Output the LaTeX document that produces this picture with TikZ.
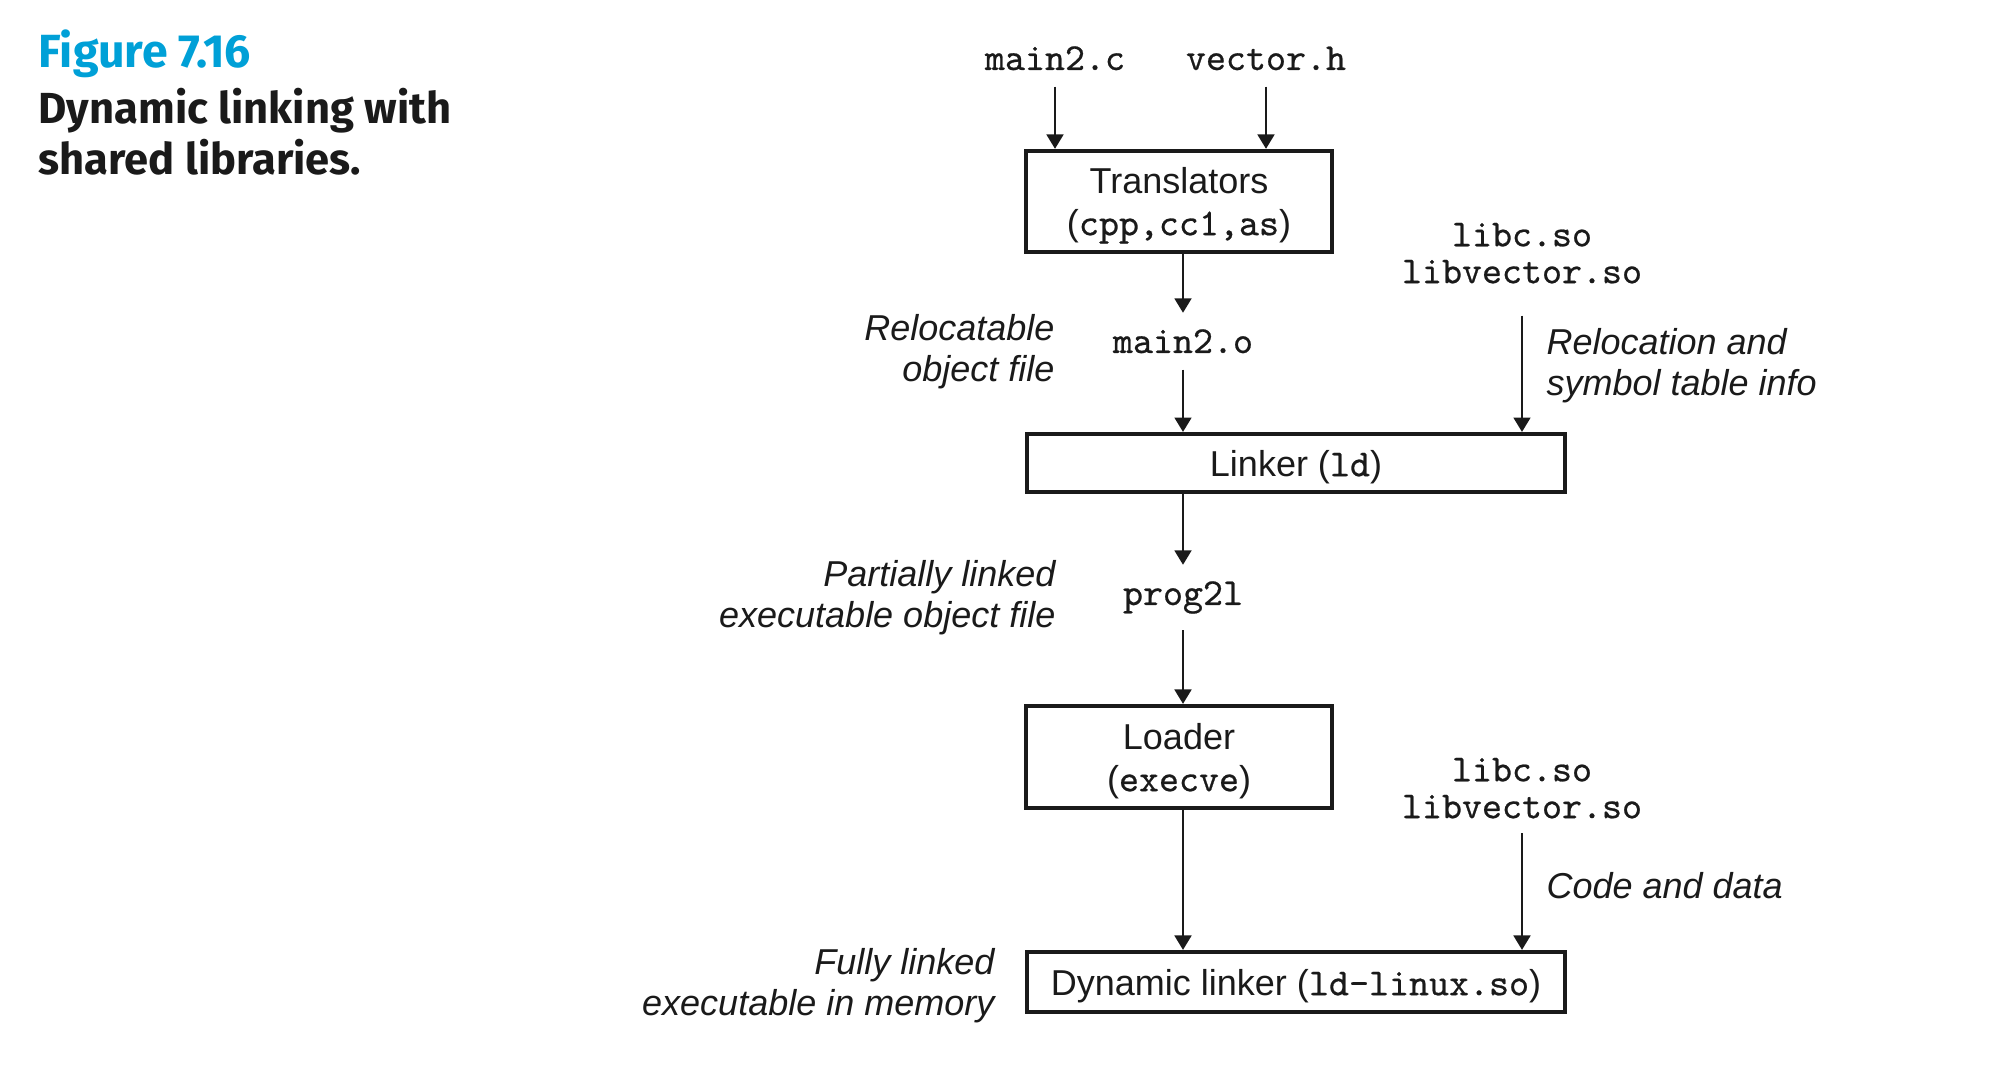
\documentclass[tikz,border=0pt]{standalone}
\usepackage{fontspec}
\setmainfont{Liberation Sans}
\setmonofont{lmmono10-regular.otf}[FakeBold=0.6]
\newfontfamily\titlefont{Fira Sans}
\usetikzlibrary{arrows.meta}
\definecolor{figblue}{RGB}{0,160,215}
\definecolor{ink}{RGB}{26,26,26}

\tikzset{
	box/.style = {draw, line width=1.4pt, inner sep=0pt, align=center,
		font=\fontsize{12}{14}\selectfont},
	file/.style = {inner sep=0pt, outer sep=5.5pt, align=center, anchor=base,
		font=\ttfamily\fontsize{12.7}{12.3}\selectfont},
	note/.style = {inner sep=0pt, font=\itshape\fontsize{12}{13.7}\selectfont},
	arr/.style = {-{Triangle[length=4.8pt,width=5.6pt]}, line width=0.8pt},
}
\newcommand{\tcode}[1]{{\ttfamily\fontsize{12.7}{12.3}\selectfont #1}}
\newcommand{\boxstrut}{\rule{0pt}{11.3pt}}

\begin{document}
\begin{tikzpicture}[x=0.3333pt, y=-0.3333pt, color=ink]
	\useasboundingbox (0,0) rectangle (2000,1074);

	% caption
	\node [anchor=base west, inner sep=0pt, text=figblue,
		font=\titlefont\bfseries\fontsize{15.5}{17}\selectfont] (fignum) at (38,68) {Figure 7.16};
	\node [anchor=north west, inner sep=0pt, align=left,
		font=\titlefont\bfseries\fontsize{14.5}{17}\selectfont] (caption) at (38,87.5) {Dynamic linking with\\shared libraries.};

	% boxes
	\node [box, minimum width=102pt, minimum height=33.7pt] (trans) at (1179,201.5) {\boxstrut Translators\\(\tcode{cpp,cc1,as})};
	\node [box, minimum width=179.3pt, minimum height=19.3pt] (linker) at (1296,463) {\boxstrut Linker (\tcode{ld})};
	\node [box, minimum width=102pt, minimum height=34pt] (loader) at (1179,757) {\boxstrut Loader\\(\tcode{execve})};
	\node [box, minimum width=179.3pt, minimum height=20pt] (dyn) at (1296,982) {\boxstrut Dynamic linker (\tcode{ld-linux.so})};

	% files
	\node [file] (main2c) at (1055,70) {main2.c};
	\node [file] (vectorh) at (1266,70) {vector.h};
	\node [file] (main2o) at (1183,353) {main2.o};
	\node [file] (prog) at (1183,605) {prog2l};
	\node [file, anchor=north, outer sep=0pt] (libs top) at (1522,223) {libc.so\\libvector.so};
	\node [file, anchor=north, outer sep=0pt] (libs bottom) at (1522,758) {libc.so\\libvector.so};

	% notes
	\node [note, align=right, anchor=east] (reloc obj) at (1055,352) {Relocatable\\object file};
	\node [note, align=left, anchor=west] (reloc info) at (1546,366) {Relocation and\\symbol table info};
	\node [note, align=right, anchor=east] (partial) at (1056,598) {Partially linked\\executable object file};
	\node [note, align=left, anchor=west] (code data) at (1546,886) {Code and data};
	\node [note, align=right, anchor=east] (fully) at (995,986) {Fully linked\\executable in memory};

	% arrows
	\draw [arr] (main2c) -- (main2c |- trans.north);
	\draw [arr] (vectorh) -- (vectorh |- trans.north);
	\draw [arr] (main2o |- trans.south) -- (main2o);
	\draw [arr] (main2o) -- (main2o |- linker.north);
	\draw [arr, shorten <=10.7pt] (libs top) -- (libs top |- linker.north);
	\draw [arr] (prog |- linker.south) -- (prog);
	\draw [arr] (prog) -- (prog |- loader.north);
	\draw [arr] (prog |- loader.south) -- (prog |- dyn.north);
	\draw [arr, shorten <=5pt] (libs bottom) -- (libs bottom |- dyn.north);
\end{tikzpicture}
\end{document}
